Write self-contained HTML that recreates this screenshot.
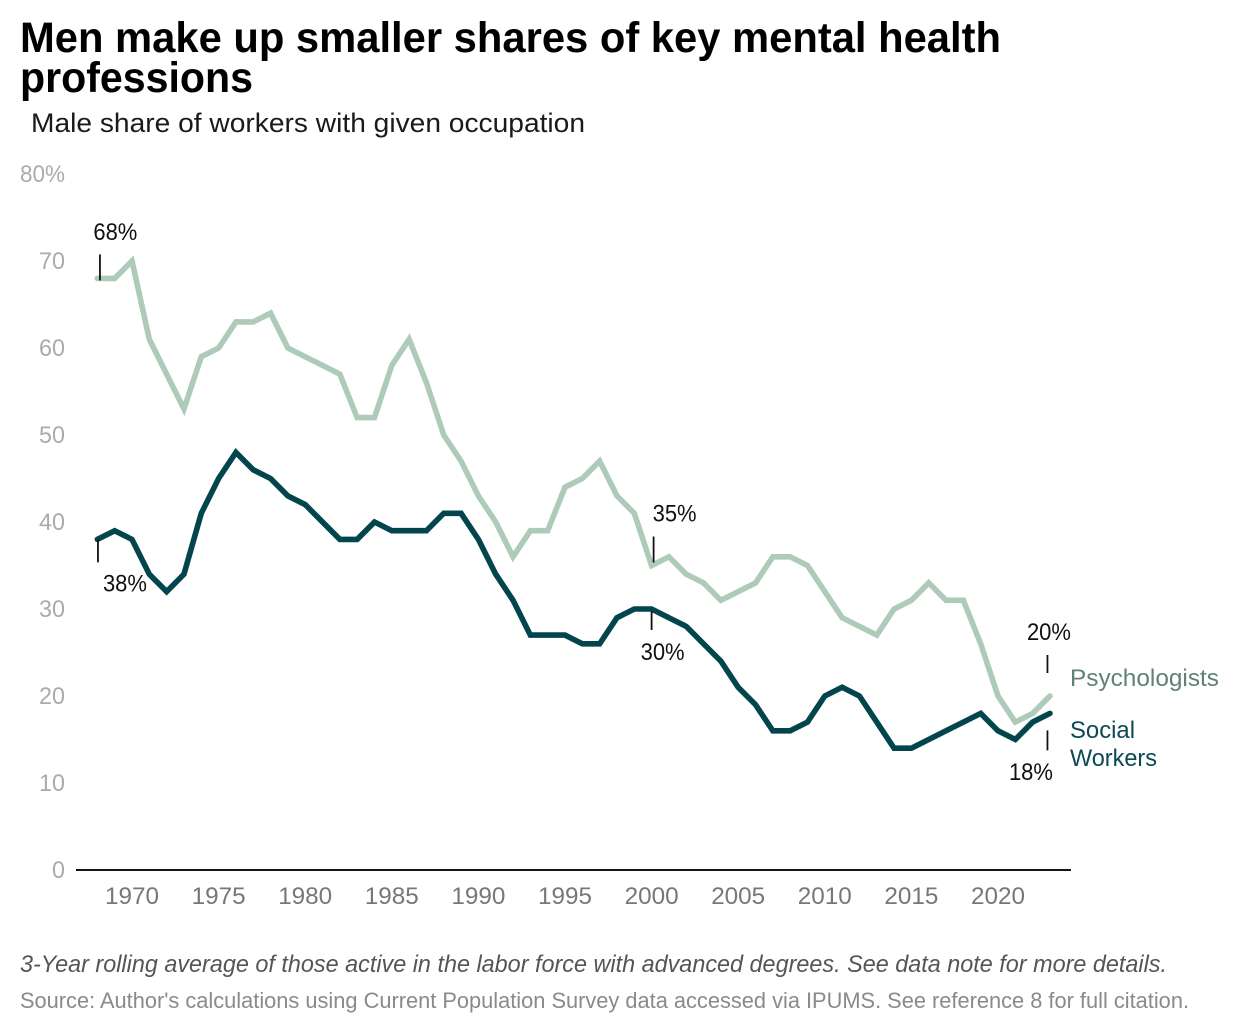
<!DOCTYPE html>
<html lang="en">
<head>
<meta charset="utf-8">
<title>Men make up smaller shares of key mental health professions</title>
<style>
html,body{margin:0;padding:0;background:#fff;}
svg{display:block;font-family:"Liberation Sans",Arial,sans-serif;}
</style>
</head>
<body>
<svg id="chart" width="1240" height="1034" viewBox="0 0 1240 1034" xmlns="http://www.w3.org/2000/svg">
  <rect width="1240" height="1034" fill="#ffffff"/>
  <text x="20" y="52" font-size="42.5" font-weight="700" fill="#000" textLength="981" lengthAdjust="spacingAndGlyphs">Men make up smaller shares of key mental health</text>
  <text x="20" y="92" font-size="42.5" font-weight="700" fill="#000" textLength="233" lengthAdjust="spacingAndGlyphs">professions</text>
  <text x="31" y="132" font-size="27" fill="#1a1a1a" textLength="554" lengthAdjust="spacingAndGlyphs">Male share of workers with given occupation</text>
  <g id="y-axis"></g>
  <g id="x-axis"></g>
  <g id="series"></g>
  <g id="annotations"></g>
  <text x="1070" y="686" font-size="24.5" fill="#5f8272" textLength="149" lengthAdjust="spacingAndGlyphs">Psychologists</text>
  <text x="1070" y="738" font-size="24.5" fill="#0b4a52" textLength="65" lengthAdjust="spacingAndGlyphs">Social</text>
  <text x="1070" y="766" font-size="24.5" fill="#0b4a52" textLength="87" lengthAdjust="spacingAndGlyphs">Workers</text>
  <text x="20" y="972" font-size="24" font-style="italic" fill="#555" textLength="1147" lengthAdjust="spacingAndGlyphs">3-Year rolling average of those active in the labor force with advanced degrees. See data note for more details.</text>
  <text x="20" y="1008" font-size="22" fill="#8a8a8a" textLength="1169" lengthAdjust="spacingAndGlyphs">Source: Author's calculations using Current Population Survey data accessed via IPUMS. See reference 8 for full citation.</text>
</svg>
<script>
const startYear = 1968;
const psychologists = [68,68,70,61,57,53,59,60,63,63,64,60,59,58,57,52,52,58,61,56,50,47,43,40,36,39,39,44,45,47,43,41,35,36,34,33,31,32,33,36,36,35,32,29,28,27,30,31,33,31,31,26,20,17,18,20];
const socialWorkers = [38,39,38,34,32,34,41,45,48,46,45,43,42,40,38,38,40,39,39,39,41,41,38,34,31,27,27,27,26,26,29,30,30,29,28,26,24,21,19,16,16,17,20,21,20,17,14,14,15,16,17,18,16,15,17,18];
const xTickYears = [1970,1975,1980,1985,1990,1995,2000,2005,2010,2015,2020];
const yTickValues = [0,10,20,30,40,50,60,70,80];

const NS = 'http://www.w3.org/2000/svg';
const xScale = function (year) { return 132 + (year - 1970) * 17.32; };
const yScale = function (value) { return 870 - value * 8.7; };

function make(tag, parent, attrs, text) {
  const el = document.createElementNS(NS, tag);
  Object.keys(attrs).forEach(function (k) { el.setAttribute(k, attrs[k]); });
  if (text !== undefined) el.textContent = text;
  parent.appendChild(el);
  return el;
}

const yAxis = document.getElementById('y-axis');
yTickValues.forEach(function (v) {
  const label = v === 80 ? v + '%' : String(v);
  const width = v === 80 ? 45 : (v === 0 ? 13 : 26);
  const el = make('text', yAxis, { x: 65 - width, y: yScale(v) + 8, 'font-size': 24, fill: '#ababab', textLength: width, lengthAdjust: 'spacingAndGlyphs' }, label);
  
  
});

const xAxis = document.getElementById('x-axis');
const baseline = make('line', xAxis, { x1: 76, x2: 1071, y1: yScale(0), y2: yScale(0), stroke: '#141414', 'stroke-width': 2 });


xTickYears.forEach(function (y) {
  const el = make('text', xAxis, { x: xScale(y), y: 904, 'font-size': 24.5, fill: '#777777', 'text-anchor': 'middle', textLength: 54, lengthAdjust: 'spacingAndGlyphs' }, String(y));
  
  
});

function pathFor(values) {
  return values.map(function (v, i) {
    return (i ? 'L' : 'M') + xScale(startYear + i).toFixed(2) + ' ' + yScale(v).toFixed(2);
  }).join('');
}
const seriesGroup = document.getElementById('series');
const psychLine = make('path', seriesGroup, { d: pathFor(psychologists), fill: 'none', stroke: '#adcbb8', 'stroke-width': 5.6, 'stroke-linecap': 'round', 'stroke-linejoin': 'miter' });


const socialLine = make('path', seriesGroup, { d: pathFor(socialWorkers), fill: 'none', stroke: '#03454d', 'stroke-width': 5.6, 'stroke-linecap': 'round', 'stroke-linejoin': 'miter' });



const annGroup = document.getElementById('annotations');
function annotate(values, year, tickDx, tickA, tickB, labelX, labelDy) {
  const v = values[year - startYear];
  const px = xScale(year) + tickDx;
  const py = yScale(v);
  const tick = make('line', annGroup, { x1: px, x2: px, y1: py + tickA, y2: py + tickB, stroke: '#111', 'stroke-width': 1.8 });
  
  
  const label = make('text', annGroup, { x: px + labelX, y: py + labelDy, 'font-size': 24, fill: '#111', textLength: 44, lengthAdjust: 'spacingAndGlyphs' }, v + '%');
  
  
}
annotate(psychologists, 1968, 2.6, -24, 2, -6.6, -38.5);
annotate(socialWorkers, 1968, 0.6, 0, 23, 5, 52);
annotate(psychologists, 2000, 2, -29, -3, -1, -44);
annotate(socialWorkers, 2000, 0, 2, 21, -11, 51);
annotate(psychologists, 2023, -2.5, -41, -23, -20.5, -56);
annotate(socialWorkers, 2023, -2.5, 17, 37, -38.5, 66.5);
</script>
</body>
</html>
